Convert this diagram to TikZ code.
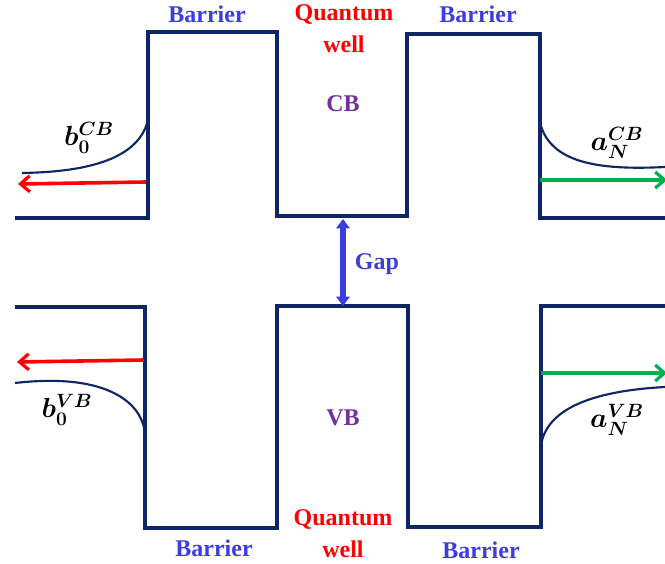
\documentclass[tikz,border=0pt]{standalone}
\usepackage{fontspec}
\setmainfont{Liberation Serif}
\usetikzlibrary{arrows.meta}
\definecolor{bandnavy}{RGB}{14,38,102}
\definecolor{lblue}{RGB}{60,60,225}
\definecolor{lpurple}{RGB}{112,48,160}
\definecolor{lgreen}{RGB}{0,176,80}
\begin{document}
\begin{tikzpicture}[
  x=0.75pt, y=-0.75pt,
  band/.style={draw=bandnavy, line width=2.7pt, line join=miter},
  wave/.style={draw=bandnavy, line width=1.6pt},
  flux/.style={line width=2.7pt, -{Straight Barb[length=7pt,width=12pt,line width=2.4pt]}},
  tag/.style={font=\bfseries\fontsize{18}{20}\selectfont, align=center, inner sep=0},
  amp/.style={font=\fontsize{22}{24}\selectfont\boldmath, inner sep=0}
]
\useasboundingbox (0,0) rectangle (665,564);
% conduction band edge
\draw[band] (15,218) -- (148,218) -- (148,32) -- (277,32) -- (277,216)
  -- (407,216) -- (407,34) -- (540,34) -- (540,218) -- (665,218);
% valence band edge
\draw[band] (15,307) -- (145,307) -- (145,528) -- (277,528) -- (277,306)
  -- (408,306) -- (408,527) -- (541,527) -- (541,306) -- (665,306);
% evanescent tails
\draw[wave] (148,120) .. controls (138,162) and (80,172) .. (22,173);
\draw[wave] (541,126) .. controls (553,165) and (605,170) .. (665,167);
\draw[wave] (15,383) .. controls (110,372) and (145,405) .. (145,437);
\draw[wave] (541,445) .. controls (548,402) and (610,390) .. (665,387);
% fluxes
\coordinate (cbL0) at (146,182); \coordinate (cbL1) at (18,184);
\coordinate (cbR0) at (540,180); \coordinate (cbR1) at (667,180);
\coordinate (vbL0) at (144,360); \coordinate (vbL1) at (17,362);
\coordinate (vbR0) at (541,373); \coordinate (vbR1) at (667,373);
\draw[flux, red] (cbL0) -- (cbL1);
\draw[flux, lgreen] (cbR0) -- (cbR1);
\draw[flux, red] (vbL0) -- (vbL1);
\draw[flux, lgreen] (vbR0) -- (vbR1);
% gap
\coordinate (gapT) at (343,219);
\coordinate (gapB) at (343,306);
\draw[lblue, line width=4pt, {Triangle[length=7pt,width=10pt]}-{Triangle[length=7pt,width=10pt]}] (gapT) -- (gapB);
\node[tag, text=lblue] (gap) at (377,264) {Gap};
% labels
\node[tag, text=lblue] (barTL) at (207,14) {Barrier};
\node[tag, text=lblue] (barTR) at (478,14) {Barrier};
\node[tag, text=red] (qwT) at (344,29) {Quantum\\[4pt]well};
\node[tag, text=lpurple] (cb) at (343,104) {CB};
\node[tag, text=lpurple] (vb) at (343,418) {VB};
\node[tag, text=lblue] (barBL) at (214,548) {Barrier};
\node[tag, text=lblue] (barBR) at (481,550) {Barrier};
\node[tag, text=red] (qwB) at (343,534) {Quantum\\[4pt]well};
\node[amp] (bcb) at (89,138) {$b_0^{CB}$};
\node[amp] (acb) at (617,143) {$a_N^{CB}$};
\node[amp] (bvb) at (67,410) {$b_0^{VB}$};
\node[amp] (avb) at (617,420) {$a_N^{VB}$};
\end{tikzpicture}
\end{document}
